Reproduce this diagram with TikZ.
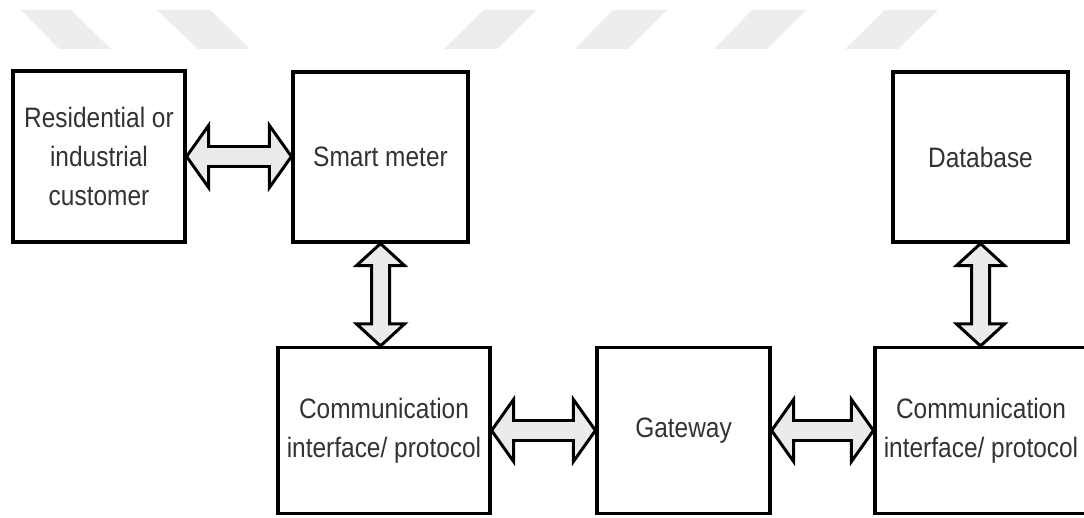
\documentclass[tikz,border=0pt]{standalone}
\usepackage{fontspec}
\setmainfont{Liberation Sans}[FakeStretch=0.87]
\usepackage{tikz}
\usetikzlibrary{calc}

\definecolor{txtgray}{HTML}{333333}
\definecolor{arrowfill}{HTML}{EBEBEB}
\definecolor{markgray}{HTML}{EDEDED}

\tikzset{
  blk/.style={draw,line width=1.8pt,minimum width=3.5cm,minimum height=3.4cm,
    align=center,text=txtgray,inner sep=0pt},
  fat/.style={draw,line width=1.7pt,fill=arrowfill,line join=miter}
}

% fat double arrows, tip to tip
\newcommand{\dblh}[2]{%
  \draw[fat] (#1) -- ($(#1)+(22,-31)$) -- ($(#1)+(22,-10)$) -- ($(#2)+(-22,-10)$)
    -- ($(#2)+(-22,-31)$) -- (#2) -- ($(#2)+(-22,31)$) -- ($(#2)+(-22,10)$)
    -- ($(#1)+(22,10)$) -- ($(#1)+(22,31)$) -- cycle;}
\newcommand{\dblv}[2]{%
  \draw[fat] (#1) -- ($(#1)+(-24,22)$) -- ($(#1)+(-9,22)$) -- ($(#2)+(-9,-22)$)
    -- ($(#2)+(-24,-22)$) -- (#2) -- ($(#2)+(24,-22)$) -- ($(#2)+(9,-22)$)
    -- ($(#1)+(9,22)$) -- ($(#1)+(24,22)$) -- cycle;}

\begin{document}
\begin{tikzpicture}[x=0.02cm,y=-0.02cm,font=\fontsize{16}{22}\selectfont]
  \clip (0,0) rectangle (1084,517);
  \fill[white] (0,0) rectangle (1084,517);
  % ---------------- watermark stripes ----------------
  \foreach \a/\b/\c/\d in {21/71/111/59,157/210/250/198,484/536/497/444,
                           613/667/628/575,752/806/767/714,885/938/898/845}
    \fill[markgray] (\a,10) -- (\b,10) -- (\c,49) -- (\d,49) -- cycle;
  % ---------------- top row ----------------
  \node[blk,minimum width=3.44cm,minimum height=3.42cm] (cust) at (99,156.5) {Residential or\\industrial\\customer};
  \node[blk] (meter) at (380.5,157) {Smart meter};
  \node[blk] (db) at (980.5,157) {Database};
  % ---------------- bottom row ----------------
  \node[blk,minimum width=4.24cm,minimum height=3.32cm] (comm1) at (384,430.5) {Communication\\interface/ protocol};
  \node[blk,minimum width=3.46cm,minimum height=3.32cm] (gw) at (683.5,430.5) {Gateway};
  \node[blk,minimum width=4.24cm,minimum height=3.32cm] (comm2) at (981,430.5) {Communication\\interface/ protocol};
  % ---------------- links ----------------
  \coordinate (c1) at (cust.east -| meter.west);
  \coordinate (m1) at (meter.south |- comm1.north);
  \coordinate (d1) at (db.south |- comm2.north);
  \coordinate (g1) at (comm1.east -| gw.west);
  \coordinate (g2) at (gw.east -| comm2.west);
  \dblh{cust.east}{c1}
  \dblv{meter.south}{m1}
  \dblv{db.south}{d1}
  \dblh{comm1.east}{g1}
  \dblh{gw.east}{g2}
\end{tikzpicture}
\end{document}
